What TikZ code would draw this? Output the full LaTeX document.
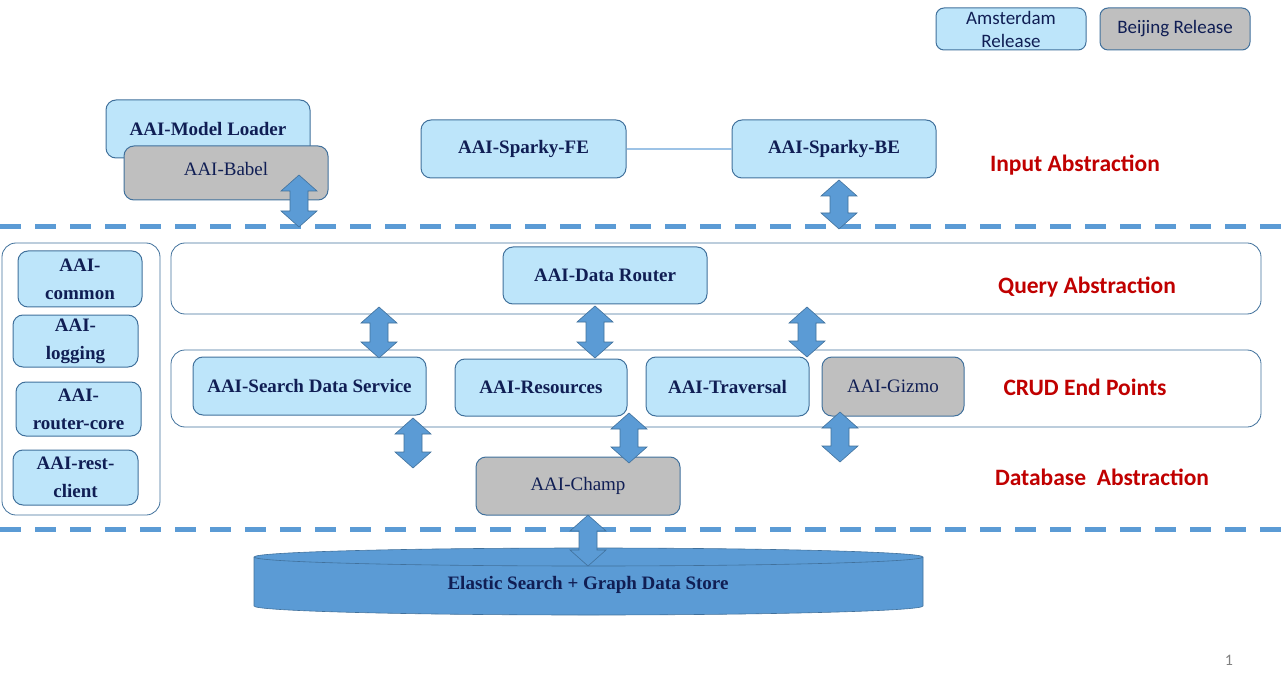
\documentclass[tikz,border=0pt]{standalone}
\usepackage{fontspec}
\setmainfont{Liberation Serif}
\newfontfamily\calibri{Carlito}
\usetikzlibrary{positioning}

\definecolor{boxblue}{RGB}{189,229,250}
\definecolor{boxgray}{RGB}{191,191,191}
\definecolor{edgeblue}{RGB}{65,113,156}
\definecolor{arrowblue}{RGB}{91,155,213}
\definecolor{linkblue}{RGB}{157,195,230}
\definecolor{textnavy}{RGB}{16,30,84}
\definecolor{layerred}{RGB}{192,0,0}

\tikzset{
  ambox/.style={draw=edgeblue, line width=1pt, fill=boxblue, rounded corners=10pt, text=textnavy,
    font=\fontsize{19}{28}\selectfont\bfseries, align=center, inner sep=0pt},
  bjbox/.style={ambox, fill=boxgray, font=\fontsize{19}{28}\selectfont},
  legend/.style={font=\calibri\fontsize{19}{23}\selectfont, rounded corners=8pt},
  layer/.style={draw=edgeblue, line width=0.8pt, rounded corners=14pt},
  layername/.style={text=layerred, font=\calibri\bfseries\fontsize{23.5}{28}\selectfont},
  divider/.style={arrowblue, line width=5pt, dash pattern=on 21pt off 14pt},
  bigarrow/.style={draw=edgeblue, line width=0.6pt, fill=arrowblue},
}

% block arrow pointing up and down: x, top, bottom
\newcommand{\layerlink}[3]{%
  \filldraw[bigarrow] (#1,#2) -- ++(18,16) -- ++(-9,0) -- (#1+9,#3-16) -- ++(9,0) -- (#1,#3)
    -- ++(-18,-16) -- ++(9,0) -- (#1-9,#2+16) -- ++(-9,0) -- cycle;}

\begin{document}
\begin{tikzpicture}[x=1pt,y=-1pt]
        \useasboundingbox (0,0) rectangle (1281,684);

        % legend
        \node[ambox, legend, minimum width=150pt, minimum height=42pt] (amst) at (1011,29) {Amsterdam\\Release};
        \node[bjbox, legend, minimum width=150pt, minimum height=42pt] (beij) at (1175,29) {Beijing Release};

        % input abstraction
        \node[ambox, minimum width=204pt, minimum height=58pt] (loader) at (208,129) {AAI-Model Loader};
        \node[bjbox, minimum width=204pt, minimum height=54pt, text depth=8pt] (babel) at (226,173) {AAI-Babel};
        \node[ambox, minimum width=205pt, minimum height=58pt] (sparkyfe) at (523.5,149) {AAI-Sparky-FE};
        \node[ambox, minimum width=204pt, minimum height=58pt] (sparkybe) at (834,149) {AAI-Sparky-BE};
        \draw[linkblue, line width=1.2pt] (sparkyfe) -- (sparkybe);
        \node[layername] (inputlbl) at (1075,165) {Input Abstraction};

        \draw[divider] (0,227) -- (1281,227);
        \layerlink{299}{175}{227}
        \layerlink{839}{180}{229}

        % common libraries
        \draw[layer] (2,243) rectangle (160,515);
        \node[ambox, minimum width=124pt, minimum height=56pt] (common) at (80,279) {AAI-\\common};
        \node[ambox, minimum width=125pt, minimum height=52pt] (logging) at (75.5,341) {AAI-\\logging};
        \node[ambox, minimum width=125pt, minimum height=54pt] (routercore) at (78.5,409) {AAI-\\router-core};
        \node[ambox, minimum width=125pt, minimum height=55pt] (restclient) at (75.5,477.5) {AAI-rest-\\client};

        % query abstraction
        \draw[layer] (171,243) rectangle (1261,314);
        \node[ambox, minimum width=204pt, minimum height=57pt] (router) at (605,275.5) {AAI-Data Router};
        \node[layername] (querylbl) at (1087,287) {Query Abstraction};

        % crud end points
        \draw[layer] (171,350) rectangle (1261,427);
        \node[ambox, minimum width=233pt, minimum height=58pt] (search) at (309.5,386) {AAI-Search Data Service};
        \node[ambox, minimum width=172pt, minimum height=57pt] (resources) at (541,387.5) {AAI-Resources};
        \node[ambox, minimum width=163pt, minimum height=59pt] (traversal) at (727.5,386.5) {AAI-Traversal};
        \node[bjbox, minimum width=142pt, minimum height=59pt] (gizmo) at (893,386.5) {AAI-Gizmo};
        \node[layername] (crudlbl) at (1085,387) {CRUD End Points};
        \layerlink{379}{307}{358}
        \layerlink{595}{306}{358}
        \layerlink{807}{307}{357}

        % database abstraction
        \node[bjbox, minimum width=204pt, minimum height=58pt] (champ) at (578,486) {AAI-Champ};
        \node[layername] (dblbl) at (1102,477) {Database~ Abstraction};
        \layerlink{413}{418}{468}
        \layerlink{629}{413}{463}
        \layerlink{840}{412}{462}

        \draw[divider] (0,529) -- (1281,529);

        % data store
        \filldraw[bigarrow] (254,557) -- (254,606) arc[start angle=180, end angle=360, x radius=334.5pt, y radius=9pt]
            -- (923,557) arc[start angle=0, end angle=180, x radius=334.5pt, y radius=9pt] -- cycle;
        \draw[edgeblue, line width=0.6pt] (254,557) arc[start angle=180, end angle=360, x radius=334.5pt, y radius=9pt];
        \node[text=textnavy, font=\fontsize{19}{22}\selectfont\bfseries] (store) at (588,585) {Elastic Search + Graph Data Store};
        \layerlink{588}{515}{566}

        \node[text=gray, font=\calibri\fontsize{16}{18}\selectfont] (pagenum) at (1229,660) {1};
    \end{tikzpicture}
\end{document}
